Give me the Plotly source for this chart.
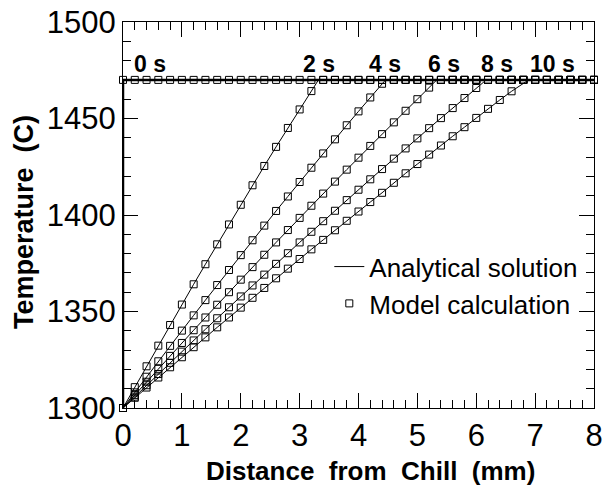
import plotly.graph_objects as go

# Distance from the chill face (mm), sampled every 0.2 mm
distance_mm = [0.0, 0.2, 0.4, 0.6, 0.8, 1.0, 1.2, 1.4, 1.6, 1.8,
               2.0, 2.2, 2.4, 2.6, 2.8, 3.0, 3.2, 3.4, 3.6, 3.8,
               4.0, 4.2, 4.4, 4.6, 4.8, 5.0, 5.2, 5.4, 5.6, 5.8,
               6.0, 6.2, 6.4, 6.6, 6.8, 7.0, 7.2, 7.4, 7.6, 7.8, 8.0]

time_labels = ["0 s", "2 s", "4 s", "6 s", "8 s", "10 s"]

chill_c = 1300.0
melt_c = 1470.0

# Model temperatures (C) at each distance, one list per time
temp_0s = [1470.0, 1470.0, 1470.0, 1470.0, 1470.0, 1470.0, 1470.0, 1470.0, 1470.0, 1470.0,
           1470.0, 1470.0, 1470.0, 1470.0, 1470.0, 1470.0, 1470.0, 1470.0, 1470.0, 1470.0,
           1470.0, 1470.0, 1470.0, 1470.0, 1470.0, 1470.0, 1470.0, 1470.0, 1470.0, 1470.0,
           1470.0, 1470.0, 1470.0, 1470.0, 1470.0, 1470.0, 1470.0, 1470.0, 1470.0, 1470.0, 1470.0]
temp_2s = [1300.0, 1310.8, 1321.6, 1332.3, 1343.0, 1353.6, 1364.1, 1374.5, 1384.8, 1395.1,
           1405.3, 1415.4, 1425.4, 1435.3, 1445.1, 1454.7, 1464.2, 1470.0, 1470.0, 1470.0,
           1470.0, 1470.0, 1470.0, 1470.0, 1470.0, 1470.0, 1470.0, 1470.0, 1470.0, 1470.0,
           1470.0, 1470.0, 1470.0, 1470.0, 1470.0, 1470.0, 1470.0, 1470.0, 1470.0, 1470.0, 1470.0]
temp_4s = [1300.0, 1308.1, 1316.2, 1324.2, 1332.2, 1340.1, 1348.0, 1355.9, 1363.7, 1371.5,
           1379.2, 1386.9, 1394.5, 1402.1, 1409.6, 1417.1, 1424.5, 1431.9, 1439.2, 1446.5,
           1453.7, 1460.9, 1468.0, 1470.0, 1470.0, 1470.0, 1470.0, 1470.0, 1470.0, 1470.0,
           1470.0, 1470.0, 1470.0, 1470.0, 1470.0, 1470.0, 1470.0, 1470.0, 1470.0, 1470.0, 1470.0]
temp_6s = [1300.0, 1306.8, 1313.6, 1320.3, 1327.0, 1333.7, 1340.3, 1346.9, 1353.5, 1360.0,
           1366.5, 1373.0, 1379.4, 1385.8, 1392.2, 1398.5, 1404.8, 1411.1, 1417.3, 1423.5,
           1429.7, 1435.8, 1441.9, 1448.0, 1454.0, 1460.0, 1466.0, 1470.0, 1470.0, 1470.0,
           1470.0, 1470.0, 1470.0, 1470.0, 1470.0, 1470.0, 1470.0, 1470.0, 1470.0, 1470.0, 1470.0]
temp_8s = [1300.0, 1305.9, 1311.8, 1317.6, 1323.4, 1329.2, 1335.0, 1340.8, 1346.5, 1352.2,
           1357.8, 1363.5, 1369.1, 1374.7, 1380.2, 1385.8, 1391.3, 1396.8, 1402.2, 1407.7,
           1413.1, 1418.5, 1423.8, 1429.2, 1434.5, 1439.7, 1445.0, 1450.2, 1455.4, 1460.6,
           1465.8, 1470.0, 1470.0, 1470.0, 1470.0, 1470.0, 1470.0, 1470.0, 1470.0, 1470.0, 1470.0]
temp_10s = [1300.0, 1305.3, 1310.6, 1315.8, 1321.1, 1326.3, 1331.5, 1336.6, 1341.8, 1346.9,
            1352.0, 1357.1, 1362.2, 1367.2, 1372.2, 1377.2, 1382.2, 1387.1, 1392.1, 1397.0,
            1401.8, 1406.7, 1411.5, 1416.7, 1421.6, 1426.4, 1431.3, 1436.0, 1440.8, 1445.5,
            1450.3, 1455.0, 1459.6, 1464.1, 1470.0, 1470.0, 1470.0, 1470.0, 1470.0, 1470.0, 1470.0]

# Distance at which each analytical profile reaches the melt temperature
front_mm = [0.0, 3.32, 4.46, 5.33, 6.17, 6.89]

# Where the time labels sit along the top of the chart
label_x = [0.46, 3.33, 4.45, 5.45, 6.35, 7.3]
label_y = 1478.0

model = [temp_0s, temp_2s, temp_4s, temp_6s, temp_8s, temp_10s]

FONT = "Liberation Sans, Arial, Helvetica, sans-serif"

fig = go.Figure()

# Analytical solution: profile from the chill up to the front, then flat melt
for i, temps in enumerate(model):
    if i == 0:
        lx = [distance_mm[0], distance_mm[0], distance_mm[-1]]
        ly = [chill_c, melt_c, melt_c]
        width = 2.5
    else:
        ramp = [(x, t) for x, t in zip(distance_mm, temps) if t < melt_c]
        lx = [p[0] for p in ramp] + [front_mm[i], distance_mm[-1]]
        ly = [p[1] for p in ramp] + [melt_c, melt_c]
        width = 1
    fig.add_trace(go.Scatter(
        x=lx, y=ly, mode="lines",
        line=dict(color="black", width=width),
        name="Analytical solution", legendgroup="analytical",
        showlegend=(i == 1), cliponaxis=False, hoverinfo="skip",
    ))

# Model calculation: open squares at every grid node
for i, temps in enumerate(model):
    fig.add_trace(go.Scatter(
        x=distance_mm, y=temps, mode="markers",
        marker=dict(symbol="square-open", size=7, color="black",
                    line=dict(color="black", width=1)),
        name="Model calculation", legendgroup="model",
        showlegend=(i == 0), cliponaxis=False,
    ))

annotations = []
for lbl, lx in zip(time_labels, label_x):
    annotations.append(dict(
        x=lx, y=label_y, xref="x", yref="y", text=lbl, showarrow=False,
        xanchor="center", yanchor="middle",
        font=dict(family=FONT, size=23, color="black", weight="bold"),
    ))

annotations.append(dict(
    x=0.525, y=-0.162, xref="paper", yref="paper",
    text="Distance\u00a0\u00a0from\u00a0\u00a0Chill\u00a0\u00a0(mm)",
    showarrow=False, xanchor="center", yanchor="middle",
    font=dict(family=FONT, size=26, color="black", weight="bold"),
))
annotations.append(dict(
    x=-0.21, y=0.482, xref="paper", yref="paper",
    text="Temperature\u00a0\u00a0(C)", textangle=-90,
    showarrow=False, xanchor="center", yanchor="middle",
    font=dict(family=FONT, size=27, color="black", weight="bold"),
))

axis_common = dict(
    ticks="inside", ticklen=15, tickwidth=1, tickcolor="black",
    showline=True, linecolor="black", linewidth=1, mirror="ticks",
    showgrid=False, zeroline=False, ticklabeloverflow="allow",
    tickfont=dict(family=FONT, size=31, color="black"),
)

fig.update_layout(
    width=608, height=486,
    margin=dict(l=123, r=5, t=22, b=78),
    paper_bgcolor="white", plot_bgcolor="white",
    font=dict(family=FONT, color="black"),
    xaxis=dict(range=[0, 8], tick0=0, dtick=1,
               minor=dict(dtick=0.2, ticks="inside", ticklen=8, tickcolor="black"),
               **axis_common),
    yaxis=dict(range=[1300, 1500], tick0=1300, dtick=50,
               minor=dict(dtick=10, ticks="inside", ticklen=8, tickcolor="black"),
               **axis_common),
    legend=dict(x=0.438, y=0.427, xanchor="left", yanchor="top",
                bgcolor="rgba(0,0,0,0)", borderwidth=0,
                font=dict(family=FONT, size=26, color="black"),
                tracegroupgap=0, itemwidth=30),
    annotations=annotations,
    showlegend=True,
)

fig.write_html("out.html")
